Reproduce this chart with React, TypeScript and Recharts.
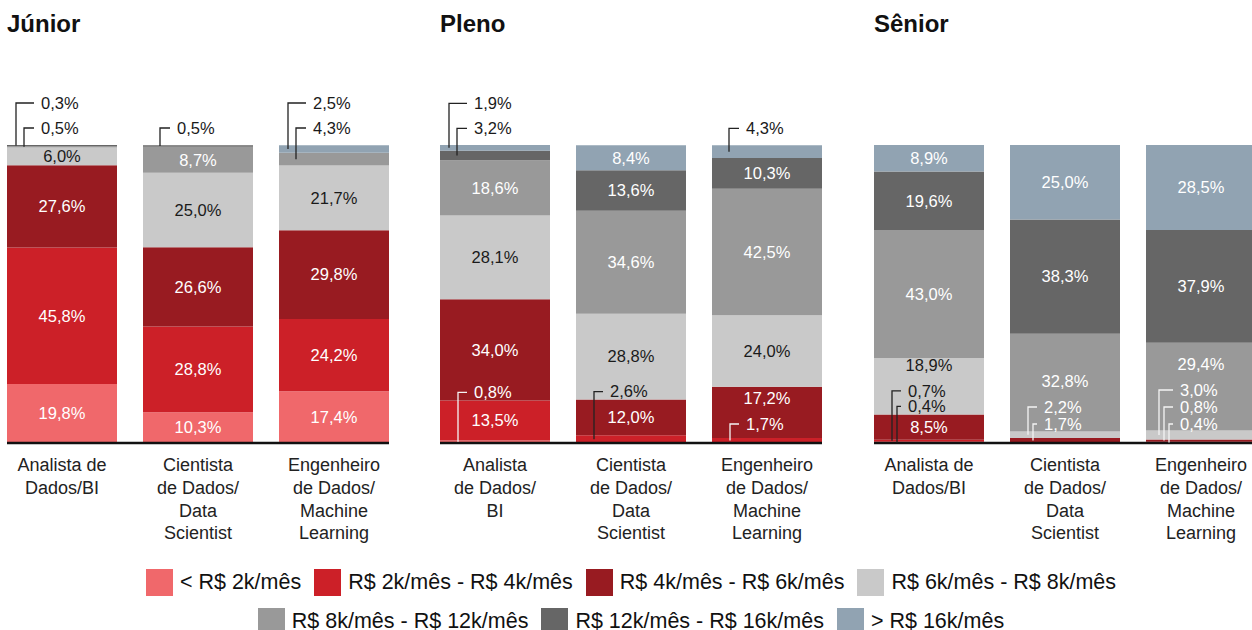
import React from "react"
import { Bar, BarChart, LabelList, XAxis, YAxis } from "recharts"

const SERIES = [
  "< R$ 2k/mês",
  "R$ 2k/mês - R$ 4k/mês",
  "R$ 4k/mês - R$ 6k/mês",
  "R$ 6k/mês - R$ 8k/mês",
  "R$ 8k/mês - R$ 12k/mês",
  "R$ 12k/mês - R$ 16k/mês",
  "> R$ 16k/mês",
]
const COLORS = ["#F0686B", "#CC2028", "#981B21", "#C9C9C9", "#999999", "#666666", "#91A3B2"]
const ROLES = ["Analista de Dados/BI", "Cientista de Dados/Data Scientist", "Engenheiro de Dados/Machine Learning"]

// % de cada faixa salarial (ordem de SERIES), uma linha por cargo
const JUNIOR = [
  [19.8, 45.8, 27.6, 6.0, 0.5, 0.3, 0],
  [10.3, 28.8, 26.6, 25.0, 8.7, 0.5, 0],
  [17.4, 24.2, 29.8, 21.7, 4.3, 0, 2.5],
]
const PLENO = [
  [0.8, 13.5, 34.0, 28.1, 18.6, 3.2, 1.9],
  [0, 2.6, 12.0, 28.8, 34.6, 13.6, 8.4],
  [0, 1.7, 17.2, 24.0, 42.5, 10.3, 4.3],
]
const SENIOR = [
  [0.4, 0.7, 8.5, 18.9, 43.0, 19.6, 8.9],
  [0, 0, 1.7, 2.2, 32.8, 38.3, 25.0],
  [0, 0.4, 0.8, 3.0, 29.4, 37.9, 28.5],
]

const JUNIOR_TICKS = [["Analista de", "Dados/BI"], ["Cientista", "de Dados/", "Data", "Scientist"], ["Engenheiro", "de Dados/", "Machine", "Learning"]]
const PLENO_TICKS = [["Analista", "de Dados/", "BI"], ["Cientista", "de Dados/", "Data", "Scientist"], ["Engenheiro", "de Dados/", "Machine", "Learning"]]
const SENIOR_TICKS = [["Analista de", "Dados/BI"], ["Cientista", "de Dados/", "Data", "Scientist"], ["Engenheiro", "de Dados/", "Machine", "Learning"]]

const FONT = "'Liberation Sans', Arial, Helvetica, sans-serif"
const DARK = "#1a1a1a"
const SMALL = 5
const BAR_W = 110
const BAND = 136

const fmt = (v: number) => v.toFixed(1).replace(".", ",") + "%"
const textColor = (s: number) => (s === 3 ? DARK : "#ffffff")
const sum = (a: number[]) => a.reduce((p, q) => p + q, 0)

// posições dos rótulos de uma barra, a partir da escala (ppp = px por ponto %)
function layoutBar(vals: number[], ppp: number, base: number) {
  const n = vals.length
  const cum: number[] = []
  let acc = 0
  for (let s = 0; s < n; s++) {
    cum[s] = acc
    acc += vals[s]
  }
  const segBot = (s: number) => base - cum[s] * ppp
  const segTop = (s: number) => base - (cum[s] + vals[s]) * ppp
  const isSmall = (s: number) => vals[s] > 0 && vals[s] < SMALL

  const bottomGroup: number[] = []
  for (let s = 0; s < n; s++) {
    if (vals[s] === 0) continue
    if (!isSmall(s)) break
    bottomGroup.push(s)
  }
  const topGroup: number[] = []
  for (let s = n - 1; s >= 0; s--) {
    if (vals[s] === 0) continue
    if (!isSmall(s)) break
    topGroup.unshift(s)
  }

  const out: { s: number; kind: string; ly: number; lx: number; color: string }[] = []
  const top100 = base - 100 * ppp

  topGroup.forEach((s, j) => {
    out.push({ s, kind: "call", ly: top100 - 17 - 25 * j, lx: 17 - 8 * j, color: DARK })
  })

  let topCallout = Infinity
  if (bottomGroup.length) {
    let anchor = bottomGroup[bottomGroup.length - 1] + 1
    while (anchor < n && vals[anchor] === 0) anchor++
    const hS = vals[anchor] * ppp
    const inside = hS >= 45
    bottomGroup.forEach((s, j) => {
      const ly = inside ? base - 19 - 17 * j : segTop(anchor) - 8 - 15.5 * j
      const lx = bottomGroup.length === 1 ? 18 : 23 - 5 * j
      let host = -1
      for (let t = 0; t < n; t++) if (vals[t] > 0 && ly >= segTop(t) && ly <= segBot(t)) host = t
      out.push({ s, kind: "call", ly, lx, color: host >= 0 ? textColor(host) : DARK })
      topCallout = Math.min(topCallout, ly)
    })
  }

  for (let s = 0; s < n; s++) {
    if (vals[s] === 0 || isSmall(s)) continue
    const center = (segTop(s) + segBot(s)) / 2
    let ly = center
    if (topCallout !== Infinity && topCallout >= segTop(s) && topCallout <= segBot(s)) {
      ly = Math.min(center, topCallout - 26)
    }
    out.push({ s, kind: "in", ly, lx: 0, color: textColor(s) })
  }
  return { out, segTop, segBot }
}

// qual barra (cargo) é este retângulo: pelo valor empilhado, senão pela posição
function findBar(values: number[][], s: number, props: any, x: number) {
  const v = props.value
  if (Array.isArray(v)) {
    const hits = values.map((_, i) => i).filter((i) => {
      const lo = sum(values[i].slice(0, s))
      return values[i][s] > 0 && Math.abs(lo - v[0]) < 0.01 && Math.abs(lo + values[i][s] - v[1]) < 0.01
    })
    if (hits.length === 1) return hits[0]
  }
  return Math.max(0, Math.min(values.length - 1, Math.round(x / BAND)))
}

function makeLabel(values: number[][], s: number) {
  return (props: any) => {
    const vb = props.viewBox && props.viewBox.width !== undefined ? props.viewBox : props
    const x = Number(vb.x)
    const w = Number(vb.width)
    let y = Number(vb.y)
    let h = Number(vb.height)
    if (h < 0) {
      y += h
      h = -h
    }
    const i = findBar(values, s, props, x)
    const vals = values[i]
    if (!vals) return null
    // só a série mais alta não nula da barra desenha os rótulos (fica por cima)
    let topS = -1
    vals.forEach((v, k) => {
      if (v > 0) topS = k
    })
    if (s !== topS || !h) return null
    const ppp = h / vals[s]
    const base = y + h + sum(vals.slice(0, s)) * ppp
    const { out, segTop, segBot } = layoutBar(vals, ppp, base)
    return (
      <g>
        {out.map((o) =>
          o.kind === "in" ? (
            <text key={o.s} x={x + w / 2} y={o.ly} dy="0.35em" textAnchor="middle" fontSize={16.5} fontFamily={FONT} fill={o.color}>
              {fmt(vals[o.s])}
            </text>
          ) : (
            <g key={o.s}>
              <polyline
                points={`${x + o.lx},${(segTop(o.s) + segBot(o.s)) / 2} ${x + o.lx},${o.ly} ${x + 27},${o.ly}`}
                fill="none"
                stroke={o.color === DARK ? "#222" : "#f4f4f4"}
                strokeWidth={1.3}
              />
              <text x={x + 34} y={o.ly} dy="0.35em" fontSize={16.5} fontFamily={FONT} fill={o.color}>
                {fmt(vals[o.s])}
              </text>
            </g>
          )
        )}
      </g>
    )
  }
}

function makeTick(lines: string[][]) {
  return (props: any) => {
    const { x, y, payload } = props
    const ls = lines[ROLES.indexOf(payload.value)] ?? []
    return (
      <text x={x} y={y} textAnchor="middle" fontSize={18} fontFamily={FONT} fill="#222">
        {ls.map((l, k) => (
          <tspan key={k} x={x} dy={k === 0 ? 28 : 22.8}>
            {l}
          </tspan>
        ))}
      </text>
    )
  }
}

function Panel({ title, values, ticks, left }: { title: string; values: number[][]; ticks: string[][]; left: number }) {
  const rows = ROLES.map((role, i) => {
    const r: any = { role }
    SERIES.forEach((_, s) => (r["s" + s] = values[i][s]))
    return r
  })
  return (
    <div style={{ position: "absolute", left, top: 0 }}>
      <div style={{ position: "absolute", left: 0, top: 10, font: `bold 24px ${FONT}`, color: "#111", whiteSpace: "nowrap", lineHeight: "normal" }}>
        {title}
      </div>
      <div style={{ position: "absolute", left: 0, top: 85 }}>
        <BarChart width={382} height={468} data={rows} margin={{ top: 60, right: 0, bottom: 0, left: 0 }} barSize={BAR_W}>
          <XAxis
            dataKey="role"
            height={110}
            padding={{ left: -(BAND - BAR_W) / 2, right: -(BAND - BAR_W) / 2 }}
            tickLine={false}
            tickSize={0}
            tickMargin={0}
            axisLine={{ stroke: "#111", strokeWidth: 2.5 }}
            tick={makeTick(ticks)}
            interval={0}
          />
          <YAxis hide domain={[0, 100]} />
          {SERIES.map((name, s) => (
            <Bar key={s} dataKey={"s" + s} name={name} stackId="a" fill={COLORS[s]} isAnimationActive={false}>
              <LabelList content={makeLabel(values, s)} />
            </Bar>
          ))}
        </BarChart>
      </div>
    </div>
  )
}

function Legend() {
  const rows = [
    [0, 1, 2, 3],
    [4, 5, 6],
  ]
  return (
    <div style={{ position: "absolute", left: 5, top: 567, width: 1252 }}>
      {rows.map((r, k) => (
        <div key={k} style={{ display: "flex", justifyContent: "center", alignItems: "center", gap: 13, height: 31, marginBottom: 8 }}>
          {r.map((s) => (
            <div key={s} style={{ display: "flex", alignItems: "center", gap: 7 }}>
              <div style={{ width: 27, height: 27, background: COLORS[s] }} />
              <span style={{ font: `21.5px ${FONT}`, color: "#111", whiteSpace: "nowrap" }}>{SERIES[s]}</span>
            </div>
          ))}
        </div>
      ))}
    </div>
  )
}

export default function App() {
  return (
    <div style={{ position: "absolute", left: 0, top: 0, width: 1252, height: 630, overflow: "hidden", background: "#fff" }}>
      <Panel title="Júnior" values={JUNIOR} ticks={JUNIOR_TICKS} left={7} />
      <Panel title="Pleno" values={PLENO} ticks={PLENO_TICKS} left={440} />
      <Panel title="Sênior" values={SENIOR} ticks={SENIOR_TICKS} left={874} />
      <Legend />
    </div>
  )
}
